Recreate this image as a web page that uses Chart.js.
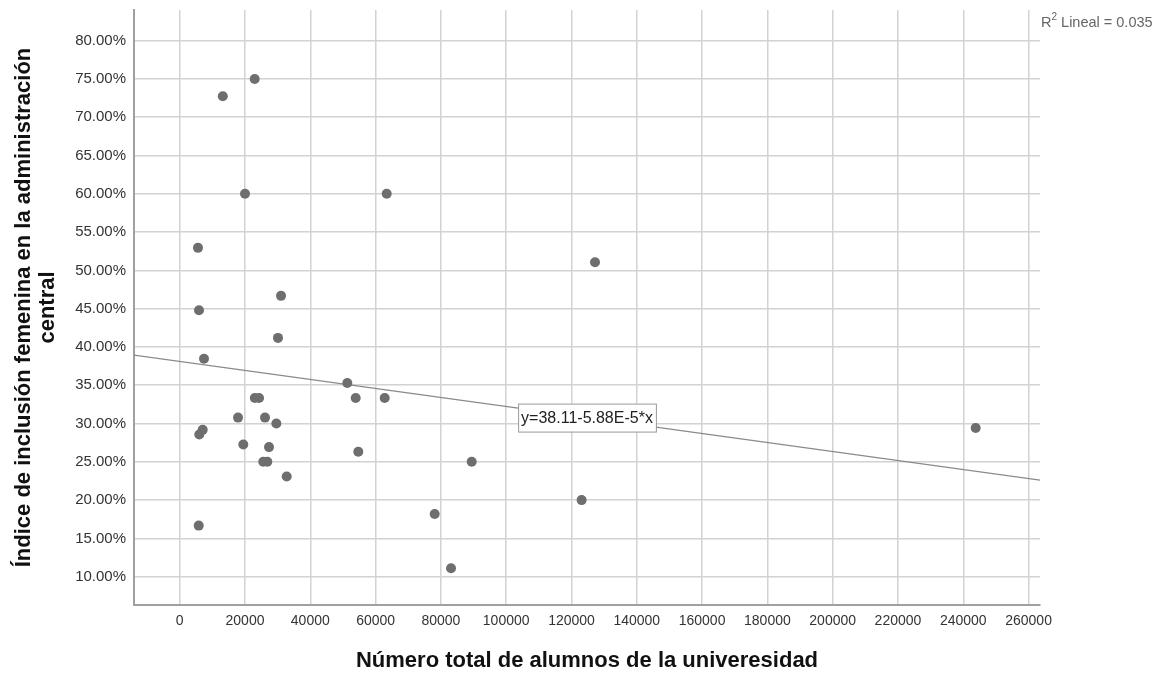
<!DOCTYPE html>
<html lang="es">

<head>
    <meta charset="UTF-8">
    <script src="https://cdn.jsdelivr.net/npm/chart.js@4.4.1/dist/chart.umd.min.js"></script>
    <title>Dispersión</title>
    <style>
        body { margin: 0; background: #fff; }
        #wrap { width: 1163px; height: 675px; }
    </style>
</head>

<body>
    <div id="wrap">
        <canvas id="chart1" width="1163" height="675"></canvas>
    </div>

    <script>
        // numero total de alumnos por universidad
        const alumnos = [22970, 13200, 20000, 63400, 5600, 31030, 5910, 30100, 7440, 51330,
            53900, 62780, 23000, 24300, 17860, 26130, 29600, 6000, 7040, 19480,
            27350, 54700, 25600, 26830, 32770, 5820, 89430, 78100, 83100, 123100,
            127200, 243800];
        // indice de inclusion femenina (%)
        const indice = [75.00, 72.73, 60.00, 60.00, 52.94, 46.67, 44.78, 41.18, 38.46, 35.29,
            33.33, 33.33, 33.33, 33.33, 30.77, 30.77, 30.00, 28.57, 29.17, 27.27,
            26.92, 26.32, 25.00, 25.00, 23.08, 16.67, 25.00, 18.18, 11.11, 20.00,
            51.06, 29.41];
        const xTicks = [0, 20000, 40000, 60000, 80000, 100000, 120000, 140000, 160000,
            180000, 200000, 220000, 240000, 260000];
        const yTicks = [10, 15, 20, 25, 30, 35, 40, 45, 50, 55, 60, 65, 70, 75, 80];
        const intercepto = 38.11;
        const pendiente = -5.88E-5;
        const ecuacion = 'y=38.11-5.88E-5*x';
        const r2 = '0.035';

        const xMin = -14000, xMax = 263500;
        const yMin = 6.3, yMax = 84;

        const puntos = alumnos.map((a, i) => ({ x: a, y: indice[i] }));
        const recta = [
            { x: xMin, y: intercepto + pendiente * xMin },
            { x: xMax, y: intercepto + pendiente * xMax }
        ];

        const fuente = 'Arial, "Liberation Sans", sans-serif';
        Chart.defaults.font.family = fuente;
        Chart.defaults.color = '#333';

        const etiquetas = {
            id: 'etiquetas',
            afterDatasetsDraw(chart) {
                const ctx = chart.ctx;
                const xs = chart.scales.x, ys = chart.scales.y;
                const area = chart.chartArea;
                // caja con la ecuacion sobre la recta
                const cx = (area.left + area.right) / 2;
                const vx = xs.getValueForPixel(cx);
                const cy = ys.getPixelForValue(intercepto + pendiente * vx);
                ctx.save();
                ctx.font = '16px ' + fuente;
                const w = ctx.measureText(ecuacion).width + 6;
                const h = 28;
                ctx.fillStyle = '#fff';
                ctx.fillRect(cx - w / 2, cy - h / 2, w, h);
                ctx.strokeStyle = '#999';
                ctx.lineWidth = 1;
                ctx.strokeRect(cx - w / 2 + 0.5, cy - h / 2 + 0.5, w, h);
                ctx.fillStyle = '#222';
                ctx.textAlign = 'center';
                ctx.textBaseline = 'middle';
                ctx.fillText(ecuacion, cx, cy + 1);

                // R2 arriba a la derecha
                ctx.fillStyle = '#666';
                ctx.textAlign = 'left';
                ctx.textBaseline = 'alphabetic';
                let x0 = area.right + 1;
                ctx.font = '14.5px ' + fuente;
                ctx.fillText('R', x0, 27);
                x0 += ctx.measureText('R').width;
                ctx.font = '10px ' + fuente;
                ctx.fillText('2', x0, 20);
                x0 += ctx.measureText('2').width;
                ctx.font = '14.5px ' + fuente;
                ctx.fillText(' Lineal = ' + r2, x0, 27);
                ctx.restore();
            }
        };

        new Chart(document.getElementById('chart1'), {
            type: 'scatter',
            data: {
                datasets: [{
                    label: 'Universidades',
                    data: puntos,
                    backgroundColor: '#6e6e6e',
                    borderColor: '#6e6e6e',
                    pointRadius: 5,
                    pointHoverRadius: 5,
                    borderWidth: 0
                }, {
                    type: 'line',
                    label: 'Lineal',
                    data: recta,
                    borderColor: '#8a8a8a',
                    borderWidth: 1.2,
                    pointRadius: 0,
                    fill: false
                }]
            },
            options: {
                responsive: false,
                animation: false,
                layout: { padding: { top: 10, right: 123, left: 0, bottom: 0 } },
                plugins: {
                    legend: { display: false },
                    tooltip: { enabled: false }
                },
                scales: {
                    x: {
                        type: 'linear',
                        min: xMin,
                        max: xMax,
                        afterBuildTicks: s => { s.ticks = xTicks.map(v => ({ value: v })); },
                        afterFit: s => { s.height = 70; s.paddingLeft = 0; s.paddingRight = 0; },
                        ticks: {
                            padding: 8,
                            maxRotation: 0,
                            autoSkip: false,
                            font: { size: 14 },
                            color: '#333',
                            callback: v => String(v)
                        },
                        grid: { color: '#d2d2d2', lineWidth: 1.5, drawTicks: false },
                        border: { color: '#a0a0a0', width: 2 },
                        title: {
                            display: true,
                            text: 'Número total de alumnos de la univeresidad',
                            font: { size: 22, weight: 'bold' },
                            color: '#111',
                            padding: { top: 0, bottom: 1 }
                        }
                    },
                    y: {
                        type: 'linear',
                        min: yMin,
                        max: yMax,
                        afterBuildTicks: s => { s.ticks = yTicks.map(v => ({ value: v })); },
                        afterFit: s => { s.width = 134; s.paddingTop = 0; s.paddingBottom = 0; },
                        ticks: {
                            padding: 8,
                            autoSkip: false,
                            font: { size: 15 },
                            color: '#333',
                            callback: v => v.toFixed(2) + '%'
                        },
                        grid: { color: '#d2d2d2', lineWidth: 1.5, drawTicks: false },
                        border: { color: '#a0a0a0', width: 2 },
                        title: {
                            display: true,
                            text: ['Índice de inclusión femenina en la administración', 'central'],
                            font: { size: 22, weight: 'bold', lineHeight: 1.1 },
                            color: '#111',
                            padding: { top: 12, bottom: 0 }
                        }
                    }
                }
            },
            plugins: [etiquetas]
        });
    </script>
</body>

</html>
